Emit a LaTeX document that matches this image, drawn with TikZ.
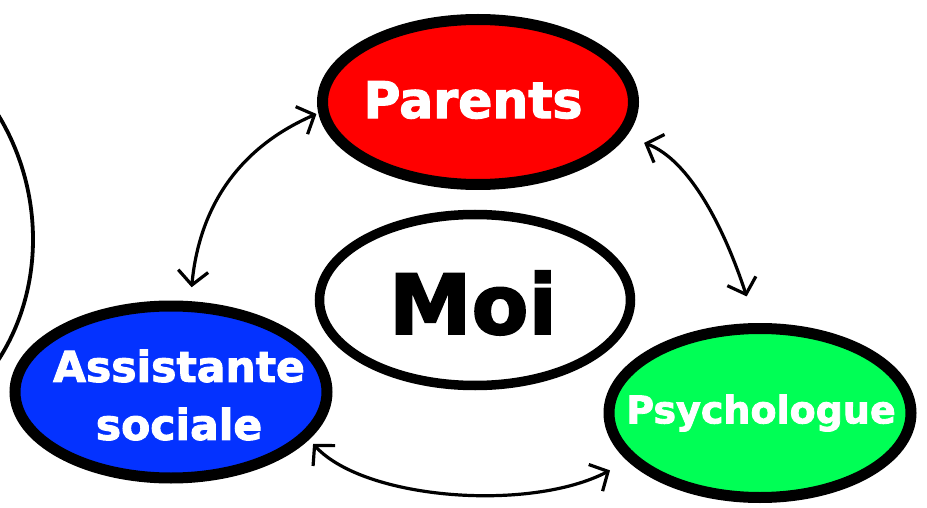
\documentclass[tikz,border=0pt]{standalone}
\usepackage{fontspec}
\setmainfont{DejaVu Sans}
\newfontfamily\heavy[FakeBold=2.2]{DejaVu Sans Bold}
\usetikzlibrary{shapes.geometric,arrows.meta}
\tikzset{
  blob/.style={ellipse,draw=black,line width=#1,inner sep=0pt},
  lbl/.style={inner sep=0pt,text=white},
  link/.style={line width=3.2pt,line cap=round,{Straight Barb[length=14pt,width=30pt,line width=3.2pt]}-{Straight Barb[length=14pt,width=30pt,line width=3.2pt]}}
}
\begin{document}
\begin{tikzpicture}[x=1pt,y=-1pt]
\useasboundingbox (0,0) rectangle (927,508);
\clip (0,0) rectangle (927,508);
\fill[white] (0,0) rectangle (927,508);
\node[blob=11pt,fill=red,minimum width=311pt,minimum height=165pt] (parents) at (478,102) {};
\node[blob=9.5pt,fill=white,minimum width=311pt,minimum height=171pt] (moi) at (475,300) {};
\node[blob=11pt,fill={rgb,255:red,4;green,50;blue,255},minimum width=312pt,minimum height=172pt] (assist) at (171,392) {};
\node[blob=11pt,fill={rgb,255:red,0;green,255;blue,85},minimum width=302pt,minimum height=169pt] (psy) at (760,413) {};
\node[lbl,font=\heavy\fontsize{50.5}{50.5}\selectfont] (t1) at (473,100) {Parents};
\node[inner sep=0pt,font=\heavy\fontsize{83}{83}\selectfont] (t2) at (473,303) {Moi};
\node[lbl,font=\heavy\fontsize{42.5}{42.5}\selectfont] (t3) at (179,366) {Assistante};
\node[lbl,font=\heavy\fontsize{42.5}{42.5}\selectfont] (t4) at (179,424) {sociale};
\node[lbl,font=\heavy\fontsize{38}{38}\selectfont] (t5) at (761,413) {Psychologue};
\draw[link,shorten >=2pt,shorten <=14pt] (assist.78.7) .. controls (200,200) and (245,145) .. (parents.184.2);
\draw[link,shorten >=28pt,shorten <=19pt] (parents.-13.5) .. controls (690,160) and (725,230) .. (psy.93.4);
\draw[link,shorten <=6pt,shorten >=20pt] (assist.-19.3) .. controls (365,500) and (530,512) .. (psy.200.2);
\draw[line width=3.8pt] (-3,113) .. controls (45,190) and (45,290) .. (-3,362);
\end{tikzpicture}
\end{document}
